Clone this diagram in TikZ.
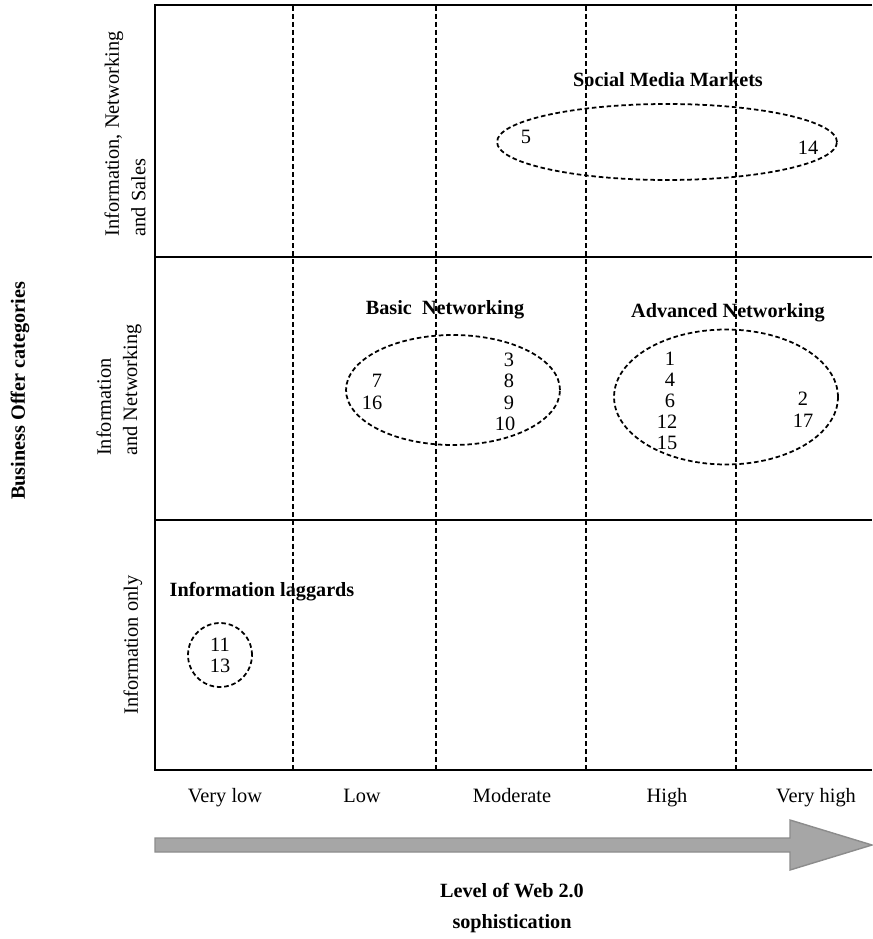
\documentclass[tikz,border=0pt]{standalone}
\usepackage{fontspec}
\setmainfont{Liberation Serif}
\usetikzlibrary{shapes.geometric}
\definecolor{arrowgray}{HTML}{A6A6A6}
\definecolor{arrowedge}{HTML}{8C8C8C}
\tikzset{
  grp/.style={draw,ellipse,dashed,line width=1pt,dash pattern=on 2.6pt off 1.6pt,inner sep=0pt},
  grplabel/.style={font=\fontsize{11.5}{14}\selectfont\bfseries},
  num/.style={inner sep=0pt},
  rowlabel/.style={rotate=90,align=left},
}
\begin{document}
\begin{tikzpicture}[x=0.02cm,y=-0.02cm,font=\fontsize{11.6}{15}\selectfont]
\useasboundingbox (0,0) rectangle (872,939);
% frame and rows
\draw[line width=1.1pt] (872,5)--(155,5)--(155,770)--(872,770);
\foreach \y in {257,520}{\draw[line width=1.1pt] (155,\y)--(872,\y);}
\foreach \x in {293,436,586,736}{\draw[line width=1pt,dash pattern=on 2.8pt off 1.7pt] (\x,6)--(\x,770);}
% levels
\foreach \x/\t [count=\i] in {225/Very low,362/Low,512/Moderate,667/High,816/Very high}{
\node[anchor=base] (lvl\i) at (\x,802) {\t};}
\filldraw[fill=arrowgray,draw=arrowedge,line width=0.8pt] (155,838)--(790,838)--(790,820)--(872,845)--(790,870)--(790,852)--(155,852)--cycle;
\node[grplabel,anchor=base] (xtitle) at (512,897) {Level of Web 2.0};
\node[grplabel,anchor=base] (xtitle2) at (512,928) {sophistication};
% rows
\node[grplabel,rotate=90] (ytitle) at (20,391) {Business Offer categories};
\node[rowlabel] (row3) at (125,134) {Information, Networking\\and Sales};
\node[rowlabel] (row2) at (119,390) {Information\\and Networking};
\node[rowlabel] (row1) at (133,645) {Information only};
% groups
\node[grplabel] (smm) at (668,80) {Social Media Markets};
\node[grp,minimum width=6.8cm,minimum height=1.52cm] (smmg) at (667,142) {};
\node[num] at (526,137) {5};
\node[num] at (808,148) {14};
\node[grplabel] (basic) at (445,310) {Basic\ \ Networking};
\node[grp,minimum width=4.28cm,minimum height=2.2cm] (basicg) at (453,390) {};
\foreach \x/\y/\n in {377/381/7,372/403/16,509/360/3,509/381/8,509/403/9,505/424/10}{
\node[num] at (\x,\y) {\n};}
\node[grplabel] (adv) at (728,313) {Advanced Networking};
\node[grp,minimum width=4.48cm,minimum height=2.7cm] (advg) at (726,397) {};
\foreach \x/\y/\n in {670/359/1,670/380/4,670/401/6,667/422/12,667/443/15,803/399/2,803/421/17}{
\node[num] at (\x,\y) {\n};}
\node[grplabel] (lag) at (262,592) {Information laggards};
\node[grp,circle,minimum size=1.28cm] (lagg) at (220,655) {};
\node[num] at (220,645) {11};
\node[num] at (220,666) {13};
\end{tikzpicture}
\end{document}
